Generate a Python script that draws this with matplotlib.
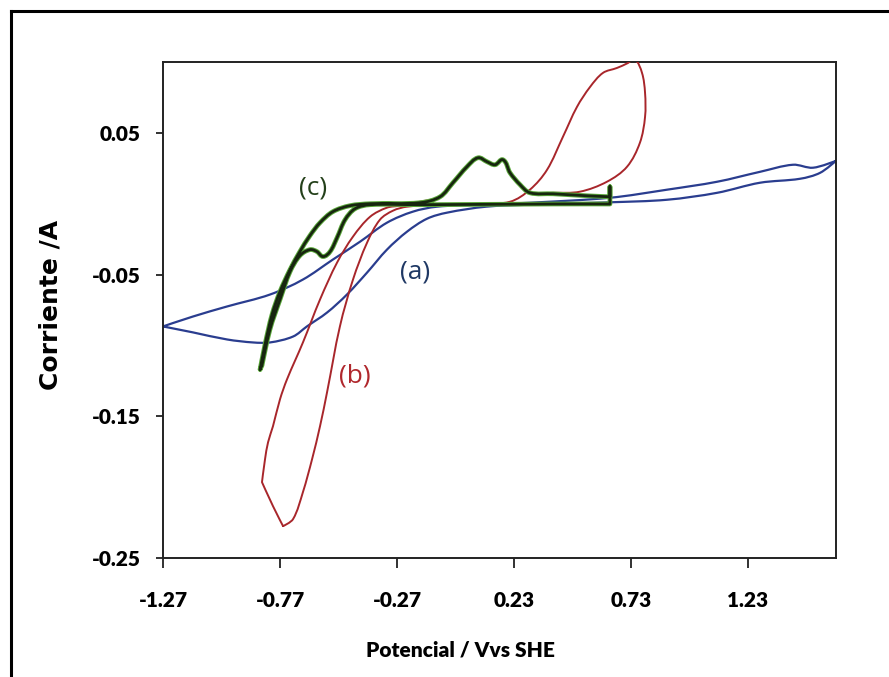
import matplotlib
matplotlib.use("Agg")
import numpy as np
import matplotlib.pyplot as plt
from matplotlib.lines import Line2D
from matplotlib.path import Path
from matplotlib.patches import PathPatch

# ---------------- data (potential V vs SHE, current A) ----------------
a_V = [-1.270, -1.142, -0.996, -0.813, -0.672, -0.544, -0.428, -0.313, -0.202, -0.099,
       0.085, 0.298, 0.640, 0.884, 1.098, 1.281, 1.422, 1.508, 1.606,
       1.538, 1.452, 1.281, 1.098, 0.884, 0.640, 0.298, 0.111, -0.056, -0.142,
       -0.227, -0.313, -0.398, -0.484, -0.569, -0.655, -0.714, -0.813, -0.885,
       -0.996, -1.142, -1.270]
a_I = [-0.0866, -0.0796, -0.0725, -0.0641, -0.0535, -0.0394, -0.0268, -0.0134, -0.0056, -0.0021,
       -0.0007, 0.0007, 0.0042, 0.0099, 0.0155, 0.0225, 0.0275, 0.0254, 0.0303,
       0.0218, 0.0176, 0.0148, 0.0077, 0.0028, 0.0010, -0.0007, -0.0021, -0.0063, -0.0106,
       -0.0197, -0.0324, -0.0486, -0.0641, -0.0768, -0.0866, -0.0937, -0.0979, -0.0979,
       -0.0958, -0.0908, -0.0866]

b_V = [-0.757, -0.714, -0.672, -0.633, -0.599, -0.569, -0.514, -0.458, -0.398, -0.343,
       -0.287, -0.227, -0.086, 0.085, 0.213, 0.298, 0.371, 0.439, 0.499, 0.555,
       0.610, 0.670, 0.717, 0.745, 0.777, 0.790, 0.790, 0.768, 0.713, 0.627,
       0.512, 0.397, 0.298, 0.256, 0.213, 0.183, 0.149, 0.115, 0.076, 0.029,
       -0.031, -0.086, -0.172, -0.257, -0.313, -0.385, -0.458, -0.526, -0.599, -0.672,
       -0.740, -0.770, -0.800, -0.821, -0.834, -0.847, -0.800, -0.757]
b_I = [-0.2275, -0.2225, -0.2035, -0.1803, -0.1570, -0.1331, -0.0866, -0.0535, -0.0275, -0.0113,
       -0.0049, -0.0021, -0.0007, 0.0000, 0.0014, 0.0099, 0.0239, 0.0472, 0.0683, 0.0824,
       0.0923, 0.0958, 0.0993, 0.1020, 0.0923, 0.0782, 0.0613, 0.0430, 0.0261, 0.0155,
       0.0085, 0.0077, 0.0077, 0.0134, 0.0218, 0.0310, 0.0275, 0.0296, 0.0324, 0.0261,
       0.0148, 0.0049, 0.0014, -0.0014, -0.0028, -0.0092, -0.0232, -0.0415, -0.0676, -0.0979,
       -0.1239, -0.1380, -0.1570, -0.1683, -0.1803, -0.1965, -0.2134, -0.2275]

c_V = [-0.855, -0.834, -0.804, -0.770, -0.727, -0.685, -0.642, -0.599, -0.544, -0.471,
       -0.385, -0.172, -0.086, -0.031, 0.029, 0.076, 0.115, 0.149, 0.183, 0.213,
       0.256, 0.298, 0.397, 0.542, 0.640, 0.640, 0.640, 0.397, -0.172, -0.385,
       -0.449, -0.492, -0.526, -0.556, -0.586, -0.612, -0.642, -0.685, -0.727, -0.770,
       -0.813, -0.847, -0.855]
c_I = [-0.1169, -0.0993, -0.0782, -0.0620, -0.0465, -0.0338, -0.0225, -0.0134, -0.0056, -0.0014,
       0.0000, 0.0007, 0.0049, 0.0148, 0.0261, 0.0324, 0.0296, 0.0275, 0.0310, 0.0218,
       0.0134, 0.0077, 0.0070, 0.0056, 0.0049, 0.0120, -0.0002, -0.0002, -0.0007, -0.0007,
       -0.0035, -0.0113, -0.0239, -0.0338, -0.0373, -0.0338, -0.0324, -0.0366, -0.0479, -0.0676,
       -0.0887, -0.1141, -0.1169]

x_ticks = [-1.27, -0.77, -0.27, 0.23, 0.73, 1.23]
x_tick_labels = ["-1.27", "-0.77", "-0.27", "0.23", "0.73", "1.23"]
y_ticks = [-0.25, -0.15, -0.05, 0.05]
y_tick_labels = ["-0.25", "-0.15", "-0.05", "0.05"]

curve_labels = ["(a)", "(b)", "(c)"]
label_pos = [(-0.193, -0.0479), (-0.449, -0.1218), (-0.629, 0.0113)]

XLIM = (-1.27, 1.606)
YLIM = (-0.25, 0.10)


def smooth_path(xs, ys, corners, sx, sy):
    """Smooth drawing of a polyline through the given points (Bezier rendering)."""
    P = np.column_stack([np.asarray(xs) * sx, np.asarray(ys) * sy])
    n = len(P)
    D = np.zeros_like(P)
    for i in range(1, n - 1):
        if i in corners:
            continue
        d = P[i + 1] - P[i - 1]
        nrm = np.hypot(*d)
        if nrm > 0:
            D[i] = d / nrm
    verts = [P[0]]
    codes = [Path.MOVETO]
    for i in range(n - 1):
        L = np.hypot(*(P[i + 1] - P[i]))
        c1 = P[i] + D[i] * L / 3.0
        c2 = P[i + 1] - D[i + 1] * L / 3.0
        verts += [c1, c2, P[i + 1]]
        codes += [Path.CURVE4] * 3
    V = np.array(verts)
    V[:, 0] /= sx
    V[:, 1] /= sy
    return Path(V, codes)


# ---------------- figure ----------------
fig = plt.figure(figsize=(8.89, 6.77), dpi=100)
ax = fig.add_axes([163/889, 1-558/677, (836-163)/889, (558-62)/677])
ax.set_xlim(*XLIM)
ax.set_ylim(*YLIM)

sx = 673 / (XLIM[1] - XLIM[0])
sy = 496 / (YLIM[1] - YLIM[0])

specs = [
    (a_V, a_I, {0, 18, len(a_V) - 1}, [("#2a3d8f", 1.6)], 2),
    (b_V, b_I, {55}, [("#a8262b", 1.4)], 3),
    (c_V, c_I, {24, 25, 26, 41}, [("#5aa83a", 3.4), ("#17260f", 2.0)], 4),
]
for xs, ys, corners, styles, z in specs:
    path = smooth_path(xs, ys, corners, sx, sy)
    for k, (col, lw) in enumerate(styles):
        ax.add_patch(PathPatch(path, facecolor="none", edgecolor=col, lw=lw,
                               zorder=z + 0.1 * k, joinstyle="round", capstyle="round"))

tick_font = dict(family=["Lato", "DejaVu Sans"], weight="heavy", size=15)
ax.set_xticks(x_ticks)
ax.set_xticklabels(x_tick_labels, fontdict=tick_font)
ax.set_yticks(y_ticks)
ax.set_yticklabels(y_tick_labels, fontdict=tick_font)
ax.tick_params(axis="x", direction="out", length=7, width=1.3, pad=17, color="#222222")
ax.tick_params(axis="y", direction="out", length=5, width=1.3, pad=11, color="#222222")
for s in ax.spines.values():
    s.set_linewidth(1.4)
    s.set_color("#222222")

ax.set_xlabel("Potencial / Vvs SHE", fontsize=15, fontweight="heavy",
              family=["Lato", "DejaVu Sans"], va="center")
ax.xaxis.set_label_coords((460 - 163) / 673, (558 - 650) / 496)
ax.set_ylabel("Corriente /A", fontsize=18, fontweight="bold",
              family=["DejaVu Sans"], va="center")
ax.yaxis.set_label_coords((50 - 163) / 673, (558 - 305) / 496)

label_colors = ["#1f3864", "#b0282d", "#24401a"]
for txt, (lx, ly), col in zip(curve_labels, label_pos, label_colors):
    ax.text(lx, ly, txt, color=col, fontsize=19, ha="center", va="center",
            family=["Open Sans", "DejaVu Sans"])

# outer frame
fig.add_artist(Line2D([11/889, 1.0], [1-11/677, 1-11/677], color="black", lw=2.2,
                      transform=fig.transFigure))
fig.add_artist(Line2D([11/889, 11/889], [0.0, 1-11/677], color="black", lw=2.2,
                      transform=fig.transFigure))

fig.savefig("out.png", dpi=100)
